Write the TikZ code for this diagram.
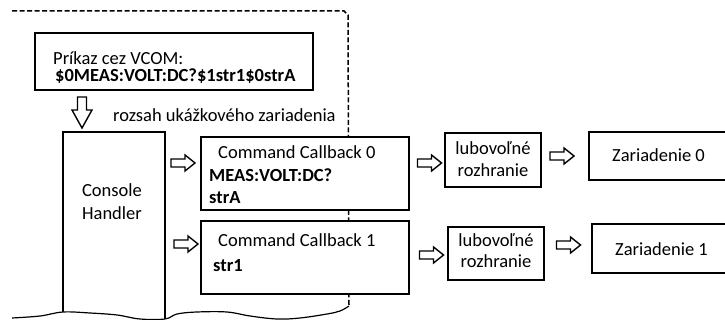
\documentclass[tikz,border=0pt]{standalone}
\usepackage{fontspec}
\setmainfont{Carlito}
\tikzset{
  box/.style={draw, line width=1.6pt, fill=white, inner sep=0pt, rectangle},
  txt/.style={inner sep=0pt, anchor=base west, font=\fontsize{18.5}{23}\selectfont},
  btxt/.style={txt, font=\fontsize{18.5}{23}\selectfont\bfseries},
  ctxt/.style={inner sep=0pt, anchor=base, font=\fontsize{18.5}{22}\selectfont},
  blk/.style={draw, line width=1.4pt, fill=white, line join=miter},
  rblk/.pic={\draw[blk] (0,-4) -- (14,-4) -- (14,-8) -- (24,0) -- (14,8) -- (14,4) -- (0,4) -- cycle;},
  dblk/.pic={\draw[blk] (-4.5,0) -- (-4.5,13) -- (-10,13) -- (0,31) -- (10,13) -- (4.5,13) -- (4.5,0) -- cycle;},
  scopeline/.style={line width=1.5pt, dash pattern=on 5pt off 2.5pt},
  edgeline/.style={line width=1.2pt},
}
\begin{document}
\begin{tikzpicture}[x=1pt, y=-1pt]
\useasboundingbox (0,0) rectangle (725,320);
\clip (0,0) rectangle (725,320);
% dashed scope boundary
\coordinate (s0) at (12,11);
\coordinate (s1) at (344,11);
\coordinate (s2) at (348,15);
\coordinate (s3) at (349,306);
\draw[scopeline] (s0) -- (s1) -- (s2) -- (s3);
% wavy bottom
\draw[edgeline] plot[smooth, tension=0.6] coordinates {(12,318) (40,316) (63,312) (90,313) (117,315) (140,319) (165,319) (177,314) (197,312) (227,312) (250,316) (277,319) (300,318) (327,314) (340,311) (349,306)};
% command box
\node[box, minimum width=278pt, minimum height=57pt] (cmd) at (174,61.5) {};
\node[txt] (cmdt1) at (53,65) {Príkaz cez VCOM:};
\node[btxt] (cmdt2) at (55,82) {\$0MEAS:VOLT:DC?\$1str1\$0strA};
% down arrow
\pic (ad) at (82,97) {dblk};
\node[txt] (scope) at (113,122) {rozsah ukážkového zariadenia};
% console handler
\coordinate (ch1) at (63,312);
\coordinate (ch2) at (63,132);
\coordinate (ch3) at (165,132);
\coordinate (ch4) at (165,319);
\draw[line width=1.5pt] (ch1) -- (ch2) -- (ch3) -- (ch4);
\node[ctxt] (cht1) at (112,197) {Console};
\node[ctxt] (cht2) at (112,220) {Handler};
% callbacks
\node[box, minimum width=208pt, minimum height=73pt] (cc0) at (305,173.5) {};
\node[txt] (cc0a) at (218,159) {Command Callback 0};
\node[btxt] (cc0b) at (209,182) {MEAS:VOLT:DC?};
\node[btxt] (cc0c) at (209,204) {strA};
\node[box, minimum width=208pt, minimum height=73pt] (cc1) at (305,257.5) {};
\node[txt] (cc1a) at (218,247) {Command Callback 1};
\node[btxt] (cc1b) at (213,272) {str1};
% interfaces
\node[box, minimum width=96pt, minimum height=54pt] (lub0) at (493,160) {};
\node[ctxt] (lub0t1) at (493,155) {lubovoľné};
\node[ctxt] (lub0t2) at (493,177) {rozhranie};
\node[box, minimum width=96pt, minimum height=53pt] (lub1) at (496,253.5) {};
\node[ctxt] (lub1t1) at (496,247) {lubovoľné};
\node[ctxt] (lub1t2) at (496,268) {rozhranie};
% devices
\node[box, minimum width=146pt, minimum height=48pt] (zar0) at (662,156) {};
\node[txt] (zar0t) at (612,162) {Zariadenie 0};
\node[box, minimum width=143pt, minimum height=49pt] (zar1) at (663.5,248.5) {};
\node[txt] (zar1t) at (615,255) {Zariadenie 1};
% block arrows
\pic (a1) at (171,163) {rblk};
\pic (a2) at (174,244) {rblk};
\pic (a3) at (417.5,163) {rblk};
\pic (a4) at (550,156) {rblk};
\pic (a5) at (419.5,255) {rblk};
\pic (a6) at (556.5,245) {rblk};
\end{tikzpicture}
\end{document}
